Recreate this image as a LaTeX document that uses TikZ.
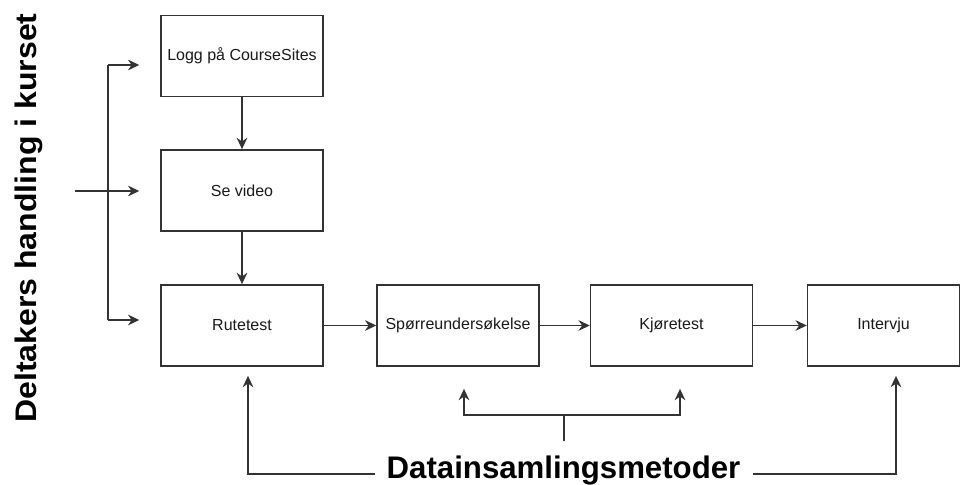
\documentclass[tikz,border=0pt]{standalone}
\usepackage{fontspec}
\setmainfont{Liberation Sans}
\usetikzlibrary{arrows.meta,calc}

\definecolor{edge}{HTML}{333333}
\definecolor{ink}{HTML}{1A1A1A}

\tikzset{
  stepbox/.style={draw=edge, line width=1.1pt, fill=white,
    minimum width=121.5pt, minimum height=61pt, inner sep=0pt,
    font=\fontsize{12}{14}\selectfont, text=ink},
  conn/.style={draw=edge, line width=1.1pt},
  arr/.style={conn, -{Stealth[length=8.5pt,width=8pt,inset=2.8pt]}},
  bigtitle/.style={font=\fontsize{23.4}{28}\selectfont\bfseries, text=black, inner sep=0pt},
}

\begin{document}
\begin{tikzpicture}[x=0.75pt, y=-0.75pt]
  \fill[white] (0,0) rectangle (961,485);
  \useasboundingbox (0,0) rectangle (961,485);

  % participant steps
  \node[stepbox] (logg)  at (242,56)    {Logg på CourseSites};
  \node[stepbox] (video) at (242,190.5) {Se video};
  \node[stepbox] (rute)  at (242,325.5) {Rutetest};

  % data collection chain
  \node[stepbox] (sporre)   at (458,325.5)   {Spørreundersøkelse};
  \node[stepbox] (kjore)    at (671.5,325.5) {Kjøretest};
  \node[stepbox, minimum width=114pt] (intervju) at (883.5,325.5) {Intervju};

  % side caption
  \node[rotate=90, anchor=base, inner sep=0pt, text=black] (side) at (36.5,218)
    {\scalebox{1}[0.93]{\fontsize{24}{28}\selectfont\bfseries Deltakers handling i kurset}};

  % bottom caption
  \node[bigtitle, anchor=base] (data) at (563.5,478) {Datainsamlingsmetoder};

  % entry arrow and branch bus on the left
  \coordinate (entry)  at (75,191);
  \coordinate (busTop) at (108,65);
  \coordinate (busBot) at (108,320);
  \draw[arr, shorten >=15.75pt] (entry) -- (entry -| video.west);
  \draw[conn] (busTop) -- (busBot);
  \draw[arr, shorten >=15.75pt] (busTop) -- (busTop -| logg.west);
  \draw[arr, shorten >=15.75pt] (busBot) -- (busBot -| rute.west);

  % vertical flow
  \draw[arr] (logg.south) -- (video.north);
  \draw[arr] (video.south) -- (rute.north);

  % horizontal flow
  \draw[arr] (rute.east) -- (sporre.west);
  \draw[arr] (sporre.east) -- (kjore.west);
  \draw[arr] (kjore.east) -- (intervju.west);

  % feedback lines from the caption
  \coordinate (capL) at (375,474);
  \coordinate (capR) at (753,474);
  \draw[arr, shorten >=6.75pt] (capL) -| ($(rute.south)+(6,0)$);
  \draw[arr, shorten >=6.75pt] (capR) -| ($(intervju.south)+(12.5,0)$);

  \coordinate (stem) at (564,441);
  \coordinate (fork) at (564,415);
  \draw[conn] (stem) -- (fork);
  \draw[arr, shorten >=16.5pt] (fork) -| ($(sporre.south)+(6,0)$);
  \draw[arr, shorten >=16.5pt] (fork) -| ($(kjore.south)+(8.5,0)$);
\end{tikzpicture}
\end{document}
